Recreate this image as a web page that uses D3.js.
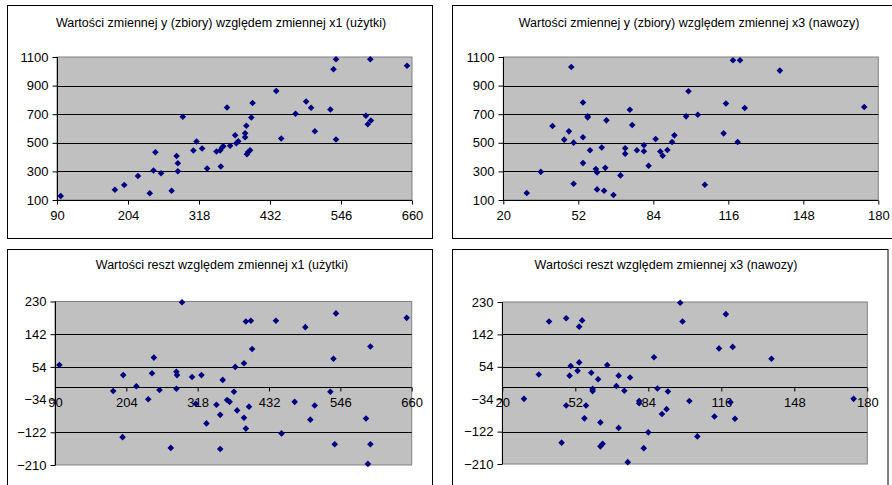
<!DOCTYPE html>
<html>
<head>
<meta charset="utf-8">
<script src="https://cdn.jsdelivr.net/npm/d3@7"></script>
<style>
  body { margin: 0; background: #fff; }
  svg { display: block; font-family: "Liberation Sans", Arial, sans-serif; }
</style>
</head>
<body>
<div id="chart"></div>
<script>
// y (zbiory) vs x1 (użytki)
const yVsX1 = [
  [96,128],[183,172],[198,205],[220,268],[239,147],[245,306],[248,434],[257,287],
  [274,165],[282,408],[284,357],[284,301],[292,682],[309,446],[314,509],[323,460],
  [331,320],[346,439],[352,446],[355,467],[357,476],[353,334],[363,747],[368,479],
  [376,553],[378,497],[381,511],[392,567],[392,539],[394,619],[395,420],[397,436],
  [400,448],[402,677],[404,778],[442,862],[450,530],[473,703],[490,789],[498,745],
  [504,581],[529,733],[534,1014],[538,1084],[538,523],[586,689],[589,630],[594,656],
  [593,1084],[652,1039]
];

// y (zbiory) vs x3 (nawozy)
const yVsX3 = [
  [30,149],[36,297],[41,617],[46,522],[48,580],[49,1030],[50,214],[50,501],
  [54,782],[54,539],[54,358],[56,678],[56,685],[57,448],[59.5,316],[60,293],
  [60,174],[62,467],[63.5,325],[63,165],[64,657],[67,135],[70,272],[72,462],
  [72,423],[74,731],[75,624],[77,448],[80,483],[80,441],[82,339],[85,527],
  [87,439],[88,409],[90,450],[92,506],[93,552],[98,685],[99,861],[103,696],
  [106,207],[114,566],[115,775],[118,1077],[121,1077],[120,506],[123,743],
  [138,1005],[174,750]
];

// reszty vs x1
const residVsX1 = [
  [97,59],[183,-11],[199,32],[198,-135],[220,2],[239,-33],[245,37],[248,79],
  [257,-8],[275,-164],[284,41],[285,32],[284,-5],[293,228],[309,27],[315,-45],
  [324,32],[332,-98],[348,-48],[354,-75],[354,-167],[358,19],[365,-35],[369,-40],
  [376,-13],[378,54],[381,-63],[392,64],[392,-83],[395,176],[395,-112],[400,-53],
  [403,178],[405,102],[443,178],[452,-125],[473,-40],[490,161],[498,-88],[505,-50],
  [530,-13],[535,76],[539,198],[537,-154],[587,-85],[594,109],[594,-154],[590,-207],
  [652,186]
];

// reszty vs x3
const residVsX3 = [
  [29.5,-33],[36,33],[40.5,177],[46,-152],[48,-51],[48,186],[49.5,30],[50,56],
  [53.7,163],[55,180],[53.7,66],[53,43],[56.7,-51],[56,-86],[59,38],[59.6,-6],
  [59.6,-12],[62,20],[63,-97],[63,-162],[64,-155],[66,59],[70,2],[71,30],
  [71,-112],[73.5,-11],[75,-205],[76,25],[80,-39],[80,-45],[82,-167],[84,-124],
  [86.5,80],[88,-5],[90,-74],[92,-61],[92.6,-13],[98,228],[99,177],[102,-39],
  [105.5,-135],[113,-81],[115,104],[118,197],[120,-42],[121,108],[122,-87],
  [138,76],[174,-33]
];

const x1Ticks = [90, 204, 318, 432, 546, 660];
const x3Ticks = [20, 52, 84, 116, 148, 180];
const yTicks = [100, 300, 500, 700, 900, 1100];
const yGrid = [300, 500, 700, 900];
const residTicks = [-210, -122, -34, 54, 142, 230];
const residGrid = [-122, 54, 142];

const titles = [
  "Wartości zmiennej y (zbiory) względem zmiennej x1 (użytki)",
  "Wartości zmiennej y (zbiory) względem zmiennej x3 (nawozy)",
  "Wartości reszt względem zmiennej x1 (użytki)",
  "Wartości reszt względem zmiennej x3 (nawozy)"
];

const W = 892, H = 485;
const svg = d3.select("#chart").append("svg")
  .attr("width", W).attr("height", H);

const panels = [
  { data: yVsX1, xt: x1Ticks, yt: yTicks, grid: yGrid, title: titles[0], axisAt: 100,
    box: [7.5, 5.5, 425, 233], plot: [57, 412, 57, 200], tx: 221, ty: 26.5 },
  { data: yVsX3, xt: x3Ticks, yt: yTicks, grid: yGrid, title: titles[1], axisAt: 100,
    box: [452.5, 5.5, 480, 233], plot: [503.3, 878.3, 57, 200], tx: 689, ty: 26.5 },
  { data: residVsX1, xt: x1Ticks, yt: residTicks, grid: residGrid, title: titles[2], axisAt: 0,
    box: [7.5, 249.5, 425, 260], plot: [55, 411.7, 301.5, 465], tx: 222, ty: 269 },
  { data: residVsX3, xt: x3Ticks, yt: residTicks, grid: residGrid, title: titles[3], axisAt: 0,
    box: [452.5, 249.5, 435.5, 260], plot: [502.3, 867.3, 302, 464], tx: 666, ty: 269 }
];

const diamond = "M0,-3.3L3.3,0L0,3.3L-3.3,0Z";

panels.forEach(p => {
  const [l, r, t, b] = p.plot;
  const x = d3.scaleLinear().domain(d3.extent(p.xt)).range([l, r]);
  const y = d3.scaleLinear().domain(d3.extent(p.yt)).range([b, t]);
  const g = svg.append("g");

  g.append("rect")
    .attr("x", p.box[0]).attr("y", p.box[1])
    .attr("width", p.box[2]).attr("height", p.box[3])
    .attr("fill", "#fff").attr("stroke", "#000").attr("stroke-width", 1);

  g.append("text")
    .attr("x", p.tx).attr("y", p.ty)
    .attr("text-anchor", "middle")
    .style("font-size", "12.5px")
    .text(p.title);

  g.append("rect")
    .attr("x", l).attr("y", t)
    .attr("width", r - l).attr("height", b - t)
    .attr("fill", "#c0c0c0").attr("stroke", "#808080").attr("stroke-width", 1);

  g.selectAll(".grid")
    .data(p.grid)
    .join("line")
      .attr("x1", l).attr("x2", r)
      .attr("y1", d => Math.round(y(d)) + 0.5).attr("y2", d => Math.round(y(d)) + 0.5)
      .attr("stroke", "#000");

  const yAxis = g.append("g")
    .attr("transform", `translate(${Math.round(l) + 0.5},0)`)
    .call(d3.axisLeft(y).tickValues(p.yt).tickSize(5).tickPadding(4).tickFormat(d3.format("d")));

  const xAxis = g.append("g")
    .attr("transform", `translate(0,${Math.round(y(p.axisAt)) + 0.5})`)
    .call(d3.axisBottom(x).tickValues(p.xt).tickSize(4).tickPadding(6).tickFormat(d3.format("d")));

  [yAxis, xAxis].forEach(a => {
    a.select(".domain").attr("stroke", "#000");
    a.selectAll(".tick line").attr("stroke", "#000");
    a.selectAll(".tick text").attr("fill", "#000").style("font-size", "13px")
      .style("font-family", "Liberation Sans, Arial, sans-serif");
  });
  // domain paths without outer end ticks
  yAxis.select(".domain").attr("d", `M0,${t}V${b}`);
  xAxis.select(".domain").attr("d", `M${l},0H${r}`);

  g.selectAll(".pt")
    .data(p.data)
    .join("path")
      .attr("d", diamond)
      .attr("transform", d => `translate(${x(d[0])},${y(d[1])})`)
      .attr("fill", "#000080");
});
</script>
</body>
</html>
